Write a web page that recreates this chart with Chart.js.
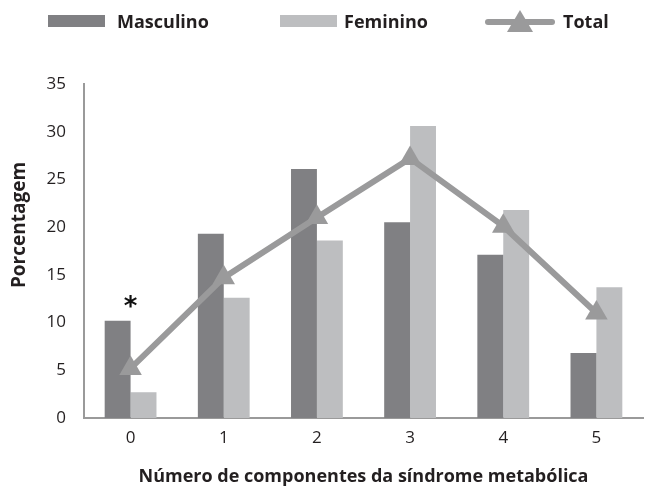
<!DOCTYPE html>
<html>
<head>
<meta charset="utf-8">
<script src="https://cdn.jsdelivr.net/npm/chart.js@4"></script>
<style>
  html, body { margin: 0; padding: 0; background: #fff; }
  #wrap { position: relative; width: 652px; height: 488px; overflow: hidden; }
  #chart { position: absolute; left: 0; top: 0; }
  #legend { position: absolute; top: 6px; left: 0; width: 652px; height: 30px;
            font-family: "Open Sans", sans-serif; font-weight: bold; font-size: 18px; color: #231f20; }
  .item { position: absolute; top: 0; height: 30px; display: flex; align-items: center; }
  .box { position: absolute; top: 9px; width: 57px; height: 12px; }
</style>
</head>
<body>
<div id="wrap">
  <canvas id="chart" width="656" height="488"></canvas>
  <div id="legend"></div>
</div>
<script>
const categories = ['0', '1', '2', '3', '4', '5'];
const masculino = [10.2, 19.3, 26.1, 20.5, 17.1, 6.8];
const feminino = [2.7, 12.6, 18.6, 30.6, 21.8, 13.7];
const total = [5.2, 14.7, 21.0, 27.2, 20.1, 11.0];
const marks = ['*', '', '', '', '', ''];
const yTicks = [0, 5, 10, 15, 20, 25, 30, 35];

const darkGray = '#808083';
const lightGray = '#bdbec0';
const lineGray = '#9a9a9b';
const textColor = '#231f20';

// legenda em HTML
const legend = document.getElementById('legend');
legend.innerHTML =
  '<div class="box" style="left:48px;background:' + darkGray + '"></div>' +
  '<div class="item" style="left:117px">Masculino</div>' +
  '<div class="box" style="left:280px;background:' + lightGray + '"></div>' +
  '<div class="item" style="left:344px">Feminino</div>' +
  '<svg style="position:absolute;left:485px;top:0" width="70" height="32">' +
  '<line x1="3" y1="16" x2="67" y2="16" stroke="' + lineGray + '" stroke-width="6" stroke-linecap="round"/>' +
  '<polygon points="35,4 48,26 22,26" fill="' + lineGray + '"/></svg>' +
  '<div class="item" style="left:563px">Total</div>';

const extrasPlugin = {
  id: 'extras',
  afterDatasetsDraw(chart) {
    const ctx = chart.ctx;
    const x = chart.scales.x, y = chart.scales.y;
    ctx.save();
    // asterisco
    ctx.font = 'bold 26px "DejaVu Sans", sans-serif';
    ctx.fillStyle = '#111';
    ctx.textAlign = 'center';
    ctx.textBaseline = 'bottom';
    marks.forEach((m, i) => {
      if (!m) return;
      const top = Math.max(masculino[i], feminino[i]);
      ctx.fillText(m, x.getPixelForValue(i), y.getPixelForValue(top) + 1);
    });
    // título do eixo y
    ctx.translate(25, 225);
    ctx.rotate(-Math.PI / 2);
    ctx.font = 'bold 19px "Open Sans", sans-serif';
    ctx.fillStyle = textColor;
    ctx.textBaseline = 'alphabetic';
    ctx.fillText('Porcentagem', 0, 0);
    ctx.restore();
  }
};

new Chart(document.getElementById('chart'), {
  data: {
    labels: categories,
    datasets: [
      {
        type: 'line',
        label: 'Total',
        data: total,
        borderColor: lineGray,
        borderWidth: 6,
        pointStyle: 'triangle',
        pointRadius: 13,
        pointBorderWidth: 0,
        pointBackgroundColor: lineGray,
        tension: 0,
        order: 0
      },
      {
        type: 'bar',
        label: 'Masculino',
        data: masculino,
        backgroundColor: darkGray,
        categoryPercentage: 0.556,
        barPercentage: 1.0,
        order: 1
      },
      {
        type: 'bar',
        label: 'Feminino',
        data: feminino,
        backgroundColor: lightGray,
        categoryPercentage: 0.556,
        barPercentage: 1.0,
        order: 1
      }
    ]
  },
  options: {
    responsive: false,
    animation: false,
    layout: { padding: { top: 84, right: 0, left: 0, bottom: 0 } },
    plugins: { legend: { display: false }, tooltip: { enabled: false } },
    scales: {
      x: {
        grid: { display: false, drawTicks: false },
        border: { color: '#9a9a9a', width: 2 },
        ticks: { color: textColor, font: { family: 'Open Sans', size: 17 }, padding: 10 },
        title: {
          display: true,
          text: 'Número de componentes da síndrome metabólica',
          color: textColor,
          font: { family: 'Open Sans', size: 18, weight: 'bold' },
          padding: { top: 0, bottom: 0 }
        },
        afterFit(scale) { scale.height = 70; }
      },
      y: {
        min: 0,
        max: 35,
        afterBuildTicks(scale) { scale.ticks = yTicks.map(v => ({ value: v })); },
        grid: { display: false, drawOnChartArea: false, drawTicks: true, tickLength: 9, color: '#9a9a9a', tickWidth: 2 },
        border: { color: '#9a9a9a', width: 2 },
        ticks: { color: textColor, font: { family: 'Open Sans', size: 17 }, padding: 9 },
        afterFit(scale) { scale.width = 84; }
      }
    }
  },
  plugins: [extrasPlugin]
});
</script>
</body>
</html>
